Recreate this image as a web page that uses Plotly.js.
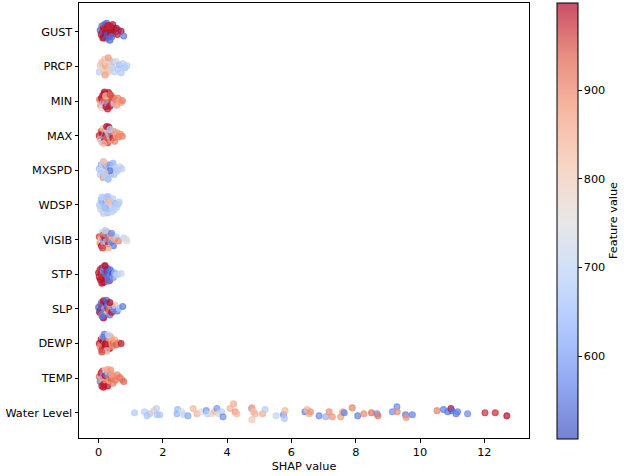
<!DOCTYPE html>
<html>
<head>
<meta charset="utf-8">
<script src="https://cdn.plot.ly/plotly-3.0.1.min.js"></script>
<style>html,body{margin:0;padding:0;background:#fff;}#chart{width:624px;height:476px;}</style>
</head>
<body>
<div id="chart"></div>
<script>
// Feature order from bottom (index 0) to top
const features = ["Water Level","TEMP","DEWP","SLP","STP","VISIB","WDSP","MXSPD","MAX","MIN","PRCP","GUST"];
const xTicks = [0,2,4,6,8,10,12];
const cbTicks = [600,700,800,900];

// SHAP values (x), feature values (colour) and vertical jitter per feature
const waterX = [1.12,1.43,1.51,1.59,1.72,1.80,1.82,1.90,2.44,2.46,2.59,2.65,2.78,2.94,3.06,3.21,3.35,3.39,3.52,3.61,3.68,3.73,3.83,3.87,4.09,4.20,4.25,4.30,4.76,4.77,4.82,4.77,4.87,5.10,5.18,5.52,5.75,5.78,5.80,6.42,6.49,6.55,6.59,6.86,7.07,7.17,7.27,7.53,7.59,7.64,7.89,8.06,8.25,8.49,8.66,8.69,9.14,9.28,9.29,9.55,9.57,9.76,10.53,10.73,10.86,10.96,10.99,11.12,11.17,11.48,12.02,12.34,12.70];
const waterC = [680,690,670,680,810,700,680,670,640,650,740,720,620,830,840,760,600,690,760,830,600,750,700,590,840,850,880,830,620,860,820,800,840,850,690,710,590,680,830,570,830,850,880,580,640,890,880,870,860,570,900,570,890,920,580,910,590,580,890,560,880,570,900,570,560,990,540,560,570,580,970,970,990];
const waterJ = [0.00,0.03,-0.09,-0.03,0.06,0.12,-0.06,-0.06,-0.03,0.09,0.03,-0.06,-0.09,0.12,-0.03,0.03,0.06,-0.03,-0.03,0.03,0.12,-0.03,0.03,-0.12,0.12,0.26,0.03,-0.03,0.12,0.14,0.03,-0.20,-0.03,-0.03,0.09,-0.09,-0.06,-0.17,0.06,0.03,0.09,-0.03,0.03,-0.09,-0.12,0.03,-0.12,-0.12,0.03,0.00,0.14,-0.09,-0.03,0.00,-0.03,-0.09,0.03,0.17,0.03,-0.06,-0.14,-0.06,0.06,0.09,0.03,0.12,0.06,-0.03,0.03,-0.03,0.00,0.00,-0.09];

const tempX = [0.02,0.05,0.08,0.10,0.12,0.14,0.16,0.18,0.20,0.22,0.24,0.26,0.28,0.30,0.32,0.34,0.36,0.39,0.42,0.45,0.48,0.52,0.58,0.66,0.72,0.78,0.15,0.28,0.38,0.10];
const tempC = [920,560,990,860,950,600,980,870,990,780,900,560,990,830,920,870,600,940,860,900,880,910,890,920,900,930,990,860,880,980];
const tempJ = [0.05,-0.12,0.18,-0.05,0.25,0.10,-0.22,0.00,0.08,0.28,-0.15,0.12,-0.28,0.20,0.02,-0.10,0.15,-0.02,0.10,-0.18,0.05,-0.08,0.12,0.02,-0.05,-0.12,-0.32,0.30,0.28,-0.28];

const dewpX = [0.02,0.05,0.08,0.10,0.12,0.14,0.16,0.18,0.20,0.22,0.24,0.26,0.28,0.30,0.32,0.34,0.37,0.40,0.43,0.46,0.50,0.55,0.62,0.70,0.15,0.25,0.35,0.20,0.10,0.30];
const dewpC = [980,890,990,960,780,995,930,570,990,870,990,700,960,860,850,990,900,830,880,920,860,940,900,980,560,840,860,990,950,700];
const dewpJ = [0.00,-0.12,0.15,-0.22,0.25,0.08,-0.05,0.32,-0.15,0.12,0.02,-0.28,0.20,-0.08,0.10,-0.18,0.05,0.18,-0.10,0.02,0.12,-0.05,0.02,0.00,0.22,-0.25,0.25,-0.02,-0.30,0.30];

const slpX = [0.00,0.03,0.05,0.07,0.09,0.11,0.13,0.15,0.17,0.19,0.21,0.23,0.25,0.27,0.29,0.31,0.33,0.35,0.38,0.41,0.44,0.48,0.52,0.58,0.64,0.75,0.15,0.25,0.10,0.35];
const slpC = [540,990,520,960,560,930,530,990,600,880,560,990,810,540,970,580,920,560,880,990,600,580,800,560,690,560,990,540,560,990];
const slpJ = [0.05,-0.12,-0.05,0.15,0.22,-0.20,0.10,0.28,-0.28,0.02,-0.10,0.20,-0.18,0.08,0.00,0.15,-0.05,-0.22,0.10,-0.12,0.05,-0.02,0.12,-0.08,0.02,0.08,-0.32,0.30,-0.25,0.22];

const stpX = [0.00,0.02,0.04,0.06,0.08,0.10,0.12,0.14,0.16,0.18,0.20,0.22,0.24,0.26,0.28,0.30,0.32,0.34,0.36,0.38,0.40,0.43,0.46,0.50,0.55,0.60,0.70,0.10,0.20,0.30];
const stpC = [990,980,960,995,985,990,970,600,980,560,540,990,550,980,530,560,540,980,550,580,570,520,600,640,700,690,720,990,990,560];
const stpJ = [0.05,-0.10,0.15,-0.20,0.02,0.22,-0.05,0.12,-0.28,0.28,0.05,-0.15,-0.02,0.10,0.20,-0.10,0.00,-0.22,0.15,-0.05,0.08,0.02,-0.12,0.05,-0.02,0.00,0.02,-0.32,0.30,-0.25];

const visibX = [0.02,0.04,0.07,0.09,0.11,0.13,0.15,0.17,0.19,0.21,0.23,0.25,0.27,0.29,0.31,0.33,0.36,0.39,0.42,0.46,0.50,0.55,0.62,0.78,0.85,0.88,0.20,0.30,0.12,0.40];
const visibC = [960,880,820,990,700,940,600,860,980,900,640,870,820,570,990,920,880,600,840,560,870,690,900,700,740,760,690,830,960,580];
const visibJ = [0.10,-0.12,0.02,-0.22,0.25,0.15,-0.05,-0.18,0.05,0.20,-0.08,0.28,-0.28,0.10,-0.15,0.00,0.18,-0.10,0.08,-0.22,0.02,0.10,-0.05,0.05,0.02,-0.05,0.32,-0.30,-0.30,0.22];

const wdspX = [0.03,0.06,0.08,0.10,0.12,0.14,0.16,0.18,0.20,0.22,0.24,0.26,0.28,0.30,0.32,0.35,0.38,0.41,0.44,0.48,0.52,0.56,0.60,0.64,0.15,0.25,0.33,0.20,0.10,0.40];
const wdspC = [680,720,660,700,640,790,690,670,740,620,700,810,660,690,720,640,680,760,700,690,650,700,680,690,710,660,830,650,690,700];
const wdspJ = [0.00,-0.15,0.18,-0.08,0.10,-0.25,0.25,0.05,-0.20,0.12,-0.05,0.20,-0.28,0.30,0.02,-0.12,0.15,-0.02,0.22,-0.18,0.05,-0.08,0.02,0.10,-0.30,0.28,0.12,-0.10,0.28,-0.25];

const mxspdX = [0.02,0.05,0.08,0.10,0.12,0.14,0.16,0.18,0.20,0.22,0.24,0.26,0.28,0.30,0.33,0.36,0.39,0.42,0.45,0.48,0.52,0.56,0.60,0.66,0.72,0.15,0.25,0.35,0.30,0.20];
const mxspdC = [660,700,640,680,720,880,650,690,760,620,680,830,700,650,690,600,680,710,640,670,690,700,680,720,700,810,840,560,660,690];
const mxspdJ = [0.05,-0.15,0.20,-0.05,0.12,-0.25,0.28,-0.20,0.02,0.15,-0.10,0.22,-0.28,0.08,-0.02,0.18,-0.12,0.05,0.25,-0.15,0.10,-0.05,0.02,0.12,0.05,0.32,-0.08,-0.02,-0.32,-0.10];

const maxX = [0.02,0.05,0.08,0.10,0.12,0.14,0.16,0.18,0.20,0.22,0.24,0.26,0.28,0.30,0.32,0.34,0.36,0.38,0.41,0.44,0.47,0.50,0.54,0.58,0.62,0.68,0.74,0.15,0.25,0.35];
const maxC = [980,860,950,690,990,820,600,970,880,990,930,700,960,850,990,640,900,870,940,980,880,900,850,870,910,890,900,830,990,680];
const maxJ = [0.00,-0.12,0.15,-0.22,0.08,0.25,-0.05,-0.18,0.12,0.02,-0.10,0.20,-0.25,0.10,0.30,-0.02,0.18,-0.15,0.05,-0.08,0.15,-0.20,0.02,0.10,-0.05,0.05,-0.02,-0.28,0.32,0.22];

const minX = [0.03,0.06,0.09,0.11,0.13,0.15,0.17,0.19,0.21,0.23,0.25,0.27,0.29,0.31,0.33,0.35,0.38,0.41,0.44,0.48,0.52,0.56,0.60,0.65,0.70,0.74,0.18,0.28,0.22,0.36];
const minC = [920,880,990,760,980,650,940,990,870,990,970,930,600,985,900,990,880,960,940,720,910,880,900,860,870,900,990,980,820,950];
const minJ = [0.05,-0.15,0.10,-0.25,0.20,-0.05,0.00,0.25,-0.10,-0.20,0.15,0.02,-0.12,0.30,0.08,-0.18,0.20,-0.02,0.12,-0.08,0.05,-0.15,0.10,0.00,-0.05,0.02,0.32,-0.28,0.18,0.22];

const prcpX = [0.02,0.05,0.08,0.10,0.12,0.15,0.17,0.19,0.21,0.23,0.25,0.27,0.29,0.31,0.33,0.35,0.37,0.40,0.43,0.46,0.50,0.55,0.60,0.65,0.70,0.75,0.82,0.88,0.20,0.30];
const prcpC = [690,800,780,810,760,830,790,820,850,770,800,840,780,810,830,760,800,790,720,680,700,770,690,660,680,700,670,690,860,870];
const prcpJ = [-0.20,0.05,-0.10,0.15,-0.02,0.10,-0.15,0.25,0.02,-0.25,0.12,-0.05,0.20,-0.18,0.08,0.22,-0.10,0.00,-0.05,0.15,-0.20,0.18,-0.08,0.05,-0.22,0.10,-0.05,0.02,-0.30,0.30];

const gustX = [0.05,0.08,0.10,0.12,0.14,0.15,0.17,0.18,0.20,0.21,0.22,0.24,0.25,0.26,0.28,0.30,0.31,0.33,0.35,0.36,0.38,0.40,0.42,0.45,0.48,0.52,0.58,0.62,0.70,0.78,0.13,0.19,0.23,0.27,0.29,0.32,0.37,0.41,0.44,0.55];
const gustC = [540,990,560,980,530,985,990,550,975,990,600,985,540,995,990,560,980,990,540,985,990,970,560,990,980,985,980,560,990,560,990,980,990,530,990,975,990,550,985,990];
const gustJ = [0.05,-0.10,0.20,0.00,-0.05,0.15,-0.20,0.25,0.05,-0.15,-0.25,0.10,0.30,-0.05,0.15,-0.20,0.00,0.10,-0.30,0.20,-0.10,0.05,0.15,-0.05,0.10,0.00,-0.10,0.05,0.02,-0.15,-0.22,0.10,-0.05,-0.12,0.22,0.18,-0.02,-0.18,0.25,0.12];

const rows = [
  [waterX, waterC, waterJ], [tempX, tempC, tempJ], [dewpX, dewpC, dewpJ],
  [slpX, slpC, slpJ], [stpX, stpC, stpJ], [visibX, visibC, visibJ],
  [wdspX, wdspC, wdspJ], [mxspdX, mxspdC, mxspdJ], [maxX, maxC, maxJ],
  [minX, minC, minJ], [prcpX, prcpC, prcpJ], [gustX, gustC, gustJ]
];

// matplotlib "coolwarm" with alpha
const cw = [[59,76,192],[98,130,234],[141,176,254],[184,208,249],[221,221,221],[245,196,173],[244,154,123],[222,96,77],[180,4,38]];
const A = 0.7;
const scale = cw.map((c,i)=>[i/(cw.length-1), `rgba(${c[0]},${c[1]},${c[2]},${A})`]);

const xs=[], ys=[], cs=[];
rows.forEach((r, idx)=>{
  const n = Math.min(r[0].length, r[1].length, r[2].length);
  const k = idx === 0 ? 1 : 0.82;
  for(let i=0;i<n;i++){ xs.push(r[0][i]); ys.push(idx + k*r[2][i]); cs.push(r[1][i]); }
});

const CMIN = 507, CMAX = 999;
const trace = {
  type:'scatter', mode:'markers', x:xs, y:ys, hoverinfo:'skip', showlegend:false,
  marker:{
    size:6, color:cs, colorscale:scale, cmin:CMIN, cmax:CMAX, showscale:true,
    line:{width:1.1, color:cs, colorscale:scale, cmin:CMIN, cmax:CMAX},
    colorbar:{
      x:1.062, xanchor:'left', xpad:0, y:0.5, yanchor:'middle', ypad:0,
      lenmode:'pixels', len:436, thicknessmode:'pixels', thickness:21,
      outlinewidth:1, outlinecolor:'#000',
      tickvals:cbTicks, ticks:'outside', ticklen:3.5, tickcolor:'#000',
      tickfont:{family:'DejaVu Sans', size:11.3, color:'#000'},
      title:{text:'Feature value', side:'right', font:{family:'DejaVu Sans', size:11.3, color:'#000'}}
    }
  }
};

const layout = {
  width:624, height:476,
  margin:{l:79, r:95, t:3, b:38},
  paper_bgcolor:'#fff', plot_bgcolor:'#fff',
  font:{family:'DejaVu Sans', size:11.3, color:'#000'},
  xaxis:{range:[-0.61,13.39], tickvals:xTicks, ticks:'outside', ticklen:3.5, tickcolor:'#000',
    showline:true, linecolor:'#000', linewidth:1, mirror:true, showgrid:false, zeroline:false,
    title:{text:'SHAP value', standoff:4, font:{family:'DejaVu Sans', size:11.3}}},
  yaxis:{range:[-0.73,11.83], tickvals:features.map((f,i)=>i), ticktext:features, ticks:'outside', ticklen:3.5, tickcolor:'#000',
    showline:true, linecolor:'#000', linewidth:1, mirror:true, showgrid:false, zeroline:false}
};

Plotly.newPlot('chart', [trace], layout, {displayModeBar:false, staticPlot:true});
</script>
</body>
</html>
